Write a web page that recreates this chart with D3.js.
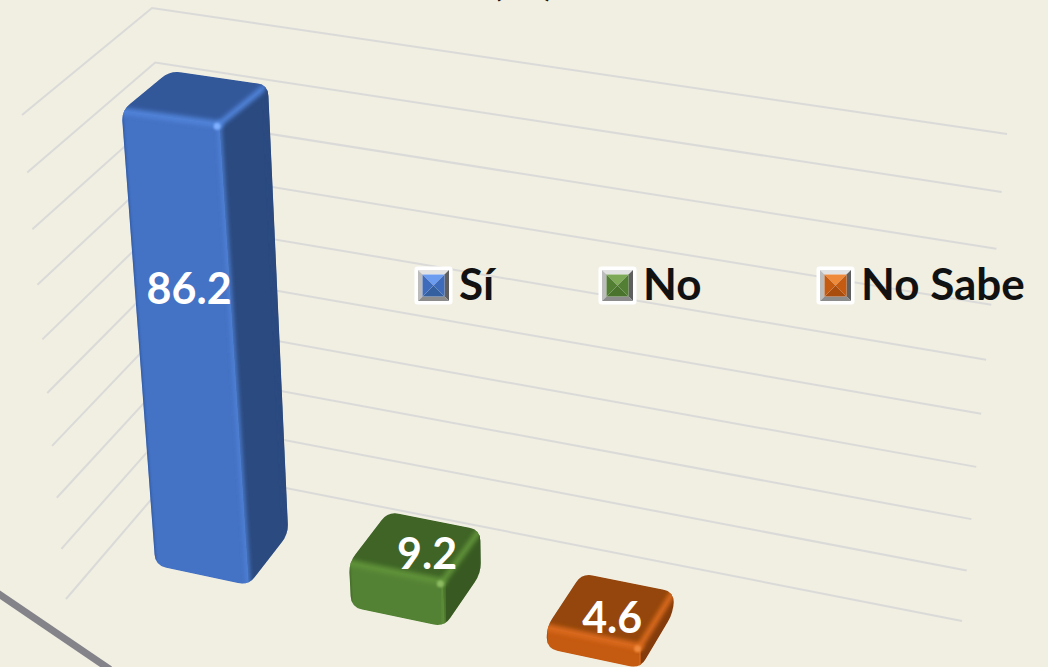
<!DOCTYPE html>
<html>
<head>
<meta charset="utf-8">
<script src="https://cdn.jsdelivr.net/npm/d3@7"></script>
<style>
    html, body { margin: 0; padding: 0; background: #f1eee2; overflow: hidden; }
    svg { display: block; }
    text { font-family: Lato, "Open Sans", sans-serif; font-weight: 700; }
</style>
</head>
<body>
<svg id="chart" width="1048" height="667"></svg>
<script>
const categories = ["Sí", "No", "No Sabe"];
const values = [86.2, 9.2, 4.6];
const gridTicks = [0, 10, 20, 30, 40, 50, 60, 70, 80, 90];

const palette = {
    "Sí": { front: "#4472c4", top: "#33589a", side: "#2b4a80", rim: "#4f82d8", spot: "#7fb0ff", dark: "#2f5597", light: "#6b9cf0", swatch: "#3f6bbb", swatchLow: "#35609f" },
    "No": { front: "#548235", top: "#3f6426", side: "#385a22", rim: "#5f9139", spot: "#8dbb62", dark: "#3f6426", light: "#7eaa58", swatch: "#527f33", swatchLow: "#4a742e" },
    "No Sabe": { front: "#c55a11", top: "#94460c", side: "#843c0c", rim: "#d9691c", spot: "#f08a3c", dark: "#94460c", light: "#ee8a3a", swatch: "#c55a11", swatchLow: "#a94d0e" }
};

const width = 1048, height = 667;
const svg = d3.select("#chart");

// corners of the 3D box as seen in the picture: floor and the v=90 plane
const floor = { a: [66, 599], b: [179, 467], c: [962, 621], d: [885, 779] };
const ceil = { a: [22, 115], b: [152, 8], c: [1007, 134], d: [867, 221] };
const wallSpan = 4.12; // the walls run on past the three categories

const xBand = d3.scaleBand().domain(categories).range([0, 3]).paddingInner(0.525).paddingOuter(0.2625);
const depthFront = 0.336, depthBack = 0.71;
const level = d3.scaleLinear().domain([0, 90]).range([0, 1]);
const bevelValue = 0.5; // rounded top eats a little of the height

function mix(p, q, t) {
    return [p[0] + (q[0] - p[0]) * t, p[1] + (q[1] - p[1]) * t];
}

function onPlane(plane, u, w) {
    const s = u / wallSpan;
    return mix(mix(plane.a, plane.d, s), mix(plane.b, plane.c, s), w);
}

function project(u, w, v) {
    const s = level(v);
    const t = s / (1 + 0.08 * (1 - s)); // levels open up towards the camera
    return mix(onPlane(floor, u, w), onPlane(ceil, u, w), t);
}

function roundedHull(points, r) {
    const path = d3.path();
    const n = points.length;
    points.forEach((p, i) => {
        const prev = points[(i + n - 1) % n], next = points[(i + 1) % n];
        const inPt = mix(p, prev, r / Math.hypot(prev[0] - p[0], prev[1] - p[1]));
        const outPt = mix(p, next, r / Math.hypot(next[0] - p[0], next[1] - p[1]));
        if (i === 0) path.moveTo(inPt[0], inPt[1]);
        else path.lineTo(inPt[0], inPt[1]);
        path.quadraticCurveTo(p[0], p[1], outPt[0], outPt[1]);
    });
    path.closePath();
    return path.toString();
}

const defs = svg.append("defs");
defs.append("filter").attr("id", "soft").attr("x", "-50%").attr("y", "-50%").attr("width", "200%").attr("height", "200%")
    .append("feGaussianBlur").attr("stdDeviation", 2);
defs.append("filter").attr("id", "softer").attr("x", "-50%").attr("y", "-50%").attr("width", "200%").attr("height", "200%")
    .append("feGaussianBlur").attr("stdDeviation", 1.2);

const line = d3.line();

// title, cut off by the top of the picture
svg.append("text")
    .attr("x", 523)
    .attr("y", -6)
    .attr("text-anchor", "middle")
    .attr("font-size", 48)
    .attr("fill", "#111")
    .text("(%)");

// grey stroke crossing the lower left corner
svg.append("path")
    .attr("d", line([[-4, 592], [110, 669.5]]))
    .attr("fill", "none")
    .attr("stroke", "#84838a")
    .attr("stroke-width", 7);

// walls
svg.append("g")
    .selectAll("path")
    .data(gridTicks)
    .join("path")
    .attr("d", v => line([project(0, 0, v), project(0, 1, v), project(wallSpan, 1, v)]))
    .attr("fill", "none")
    .attr("stroke", "#dadad8")
    .attr("stroke-width", 2);

// bars
const bars = svg.append("g")
    .selectAll("g")
    .data(categories.map((c, i) => ({ category: c, value: values[i], index: i })))
    .join("g");

bars.each(function (d) {
    const g = d3.select(this);
    const colors = palette[d.category];
    const u0 = xBand(d.category), u1 = u0 + xBand.bandwidth();
    const v = d.value - bevelValue;

    const fbl = project(u0, depthFront, 0), fbr = project(u1, depthFront, 0);
    const ftl = project(u0, depthFront, v), ftr = project(u1, depthFront, v);
    const bbr = project(u1, depthBack, 0);
    const btl = project(u0, depthBack, v), btr = project(u1, depthBack, v);

    const clipId = "bar-clip-" + d.index;
    defs.append("clipPath").attr("id", clipId)
        .append("path")
        .attr("d", roundedHull([fbl, fbr, bbr, btr, btl, ftl], 11));

    const inner = g.append("g").attr("clip-path", `url(#${clipId})`);
    const face = (pts, fill) => inner.append("path").attr("d", line(pts) + "Z").attr("fill", fill).attr("stroke", fill).attr("stroke-width", 0.5);

    face([fbr, bbr, btr, ftr], colors.side);
    face([ftl, ftr, btr, btl], colors.top);
    face([fbl, fbr, ftr, ftl], colors.front);

    const edge = (p, q, color, w, filter) => inner.append("path")
        .attr("d", line([p, q]))
        .attr("fill", "none")
        .attr("stroke", color)
        .attr("stroke-width", w)
        .attr("stroke-linecap", "round")
        .attr("filter", `url(#${filter})`);

    edge(fbl, ftl, colors.dark, 2, "softer");
    edge(fbr, ftr, colors.rim, 4, "soft");
    edge(ftl, ftr, colors.rim, 7, "soft");
    edge(ftr, btr, colors.rim, 6, "soft");
    edge(btr, bbr, colors.side, 5, "soft");

    inner.append("circle")
        .attr("cx", ftr[0] - 2)
        .attr("cy", ftr[1] + 2)
        .attr("r", 3.5)
        .attr("fill", colors.spot)
        .attr("filter", "url(#softer)");
});

// data labels
const labelAnchor = { "Sí": [0.535, depthFront, 55.4], "No": [1.53, 0.58, 6], "No Sabe": [2.51, 0.52, 2.8] };
svg.append("g")
    .selectAll("text")
    .data(categories.map((c, i) => ({ category: c, value: values[i] })))
    .join("text")
    .attr("transform", d => {
        const a = labelAnchor[d.category];
        return `translate(${project(a[0], a[1], a[2])})`;
    })
    .attr("text-anchor", "middle")
    .attr("dy", "0.36em")
    .attr("font-size", 43)
    .attr("fill", "#fff")
    .text(d => d3.format(".1f")(d.value));

// legend
const legendX = d3.scaleOrdinal().domain(categories).range([416, 600, 818]);
const legendY = 268, boxSize = 35;

const legend = svg.append("g")
    .selectAll("g")
    .data(categories)
    .join("g")
    .attr("transform", c => `translate(${legendX(c)},${legendY})`);

legend.each(function (c) {
    const g = d3.select(this);
    const colors = palette[c];
    const s = boxSize;
    g.append("rect").attr("x", -1.5).attr("y", -1.5).attr("width", s + 3).attr("height", s + 3).attr("rx", 3).attr("fill", "#fff");
    const o = 2, i = 6.5;
    const bevel = (pts, fill) => g.append("path").attr("d", line(pts) + "Z").attr("fill", fill);
    bevel([[o, o], [s - o, o], [s - i, i], [i, i]], "#e2e2e2");
    bevel([[o, o], [i, i], [i, s - i], [o, s - o]], "#bcbcbc");
    bevel([[s - o, o], [s - o, s - o], [s - i, s - i], [s - i, i]], "#5f5f5f");
    bevel([[o, s - o], [i, s - i], [s - i, s - i], [s - o, s - o]], "#8c8c8c");
    const mid = [s / 2, s / 2];
    const sq = [[i, i], [s - i, i], [s - i, s - i], [i, s - i]];
    bevel([sq[0], sq[1], mid], colors.light);
    bevel([sq[1], sq[2], mid], colors.swatch);
    bevel([sq[2], sq[3], mid], colors.swatchLow);
    bevel([sq[3], sq[0], mid], colors.swatch);
    g.append("text")
        .attr("x", s + 8)
        .attr("y", 32)
        .attr("font-size", 44)
        .attr("fill", "#111")
        .text(c);
});
</script>
</body>
</html>
